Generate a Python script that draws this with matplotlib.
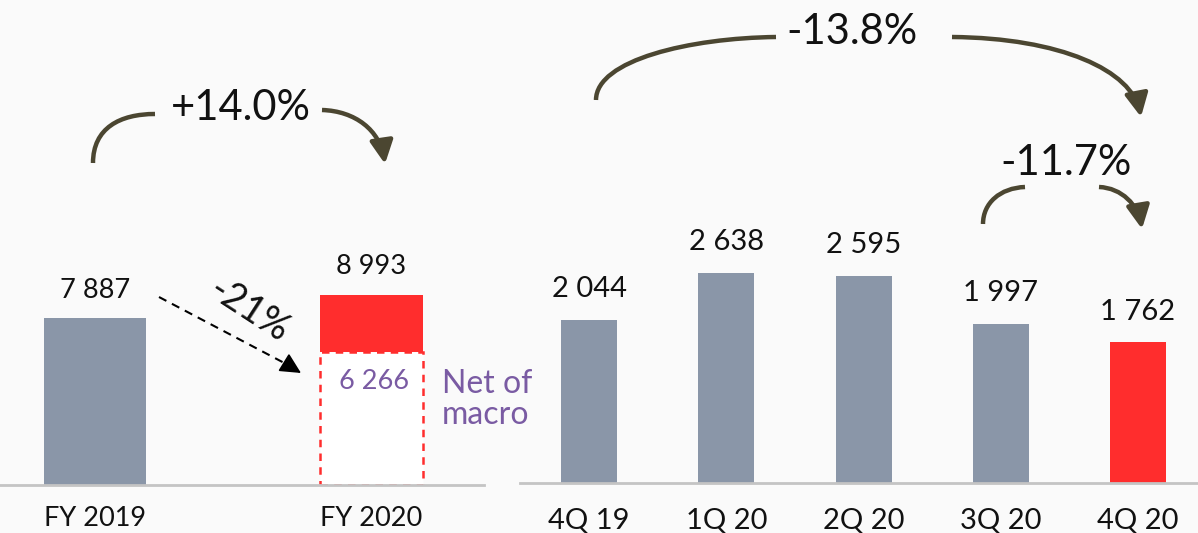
import matplotlib
matplotlib.use("Agg")
import matplotlib.pyplot as plt
from matplotlib.path import Path
from matplotlib.patches import FancyArrowPatch, Rectangle

plt.rcParams['font.family'] = ['Lato', 'DejaVu Sans']

# yearly totals
years = ["FY 2019", "FY 2020"]
year_vals = [7887, 8993]
net_of_macro = 6266

# quarterly figures
quarters = ["4Q 19", "1Q 20", "2Q 20", "3Q 20", "4Q 20"]
quarter_vals = [2044, 2638, 2595, 1997, 1762]

grey = "#8a96a8"
red = "#ff2d2d"
purple = "#7a5ba3"
olive = "#4b4631"
ink = "#111111"
bg = "#fafafa"
base = "#c4c4c4"

W, H = 1198, 533
fig = plt.figure(figsize=(W / 100, H / 100), dpi=100, facecolor=bg)


def fmt(v):
    return f"{v:,}".replace(",", " ")


def style(ax, size):
    ax.set_facecolor("none")
    for s in ["top", "left", "right"]:
        ax.spines[s].set_visible(False)
    ax.spines["bottom"].set_color(base)
    ax.spines["bottom"].set_linewidth(2)
    ax.set_yticks([])
    ax.tick_params(axis="x", length=0, labelsize=size, labelcolor=ink)


# left panel: yearly
axl = fig.add_axes([0, 48 / H, 484 / W, 485 / H])
style(axl, 19.5)
axl.set_xlim(-0.3436, 1.4069)
axl.set_ylim(0, 22909)
bw = 0.369
axl.bar(0, year_vals[0], width=bw, color=grey)
axl.bar(1, year_vals[1] - net_of_macro, bottom=net_of_macro, width=bw, color=red)
axl.add_patch(Rectangle((1 - bw / 2, 0), bw, net_of_macro, facecolor="white",
                        edgecolor=red, linestyle=(0, (3, 2.5)), linewidth=1.8))
axl.set_xticks([0, 1], years)
axl.tick_params(axis="x", pad=15)
for i, v in enumerate(year_vals):
    axl.annotate(fmt(v), (i, v), xytext=(0, 20), textcoords="offset points",
                 ha="center", va="center", fontsize=19.5, color=ink)
axl.annotate(fmt(net_of_macro), (1, net_of_macro), xytext=(2, -21),
             textcoords="offset points", ha="center", va="center",
             fontsize=19.5, color=purple)
axl.annotate("Net of\nmacro", (1 + bw / 2, net_of_macro), xytext=(14, -34),
             textcoords="offset points", ha="left", va="center",
             fontsize=23, color=purple, linespacing=1.05)

# right panel: quarterly
axr = fig.add_axes([520 / W, 50 / H, 678 / W, 483 / H])
style(axr, 21)
axr.set_xlim(-0.503, 4.437)
axr.set_ylim(0, 6056)
colors = [grey] * (len(quarters) - 1) + [red]
axr.bar(range(len(quarters)), quarter_vals, width=0.408, color=colors)
axr.set_xticks(range(len(quarters)), quarters)
axr.tick_params(axis="x", pad=18)
for i, v in enumerate(quarter_vals):
    axr.annotate(fmt(v), (i, v), xytext=(0, 22), textcoords="offset points",
                 ha="center", va="center", fontsize=21, color=ink)

# overlay in pixel units for the growth arrows
ov = fig.add_axes([0, 0, 1, 1])
ov.set_xlim(0, W)
ov.set_ylim(H, 0)
ov.axis("off")
ov.patch.set_visible(False)


def curve(pts, head):
    codes = [Path.MOVETO] + [Path.CURVE4] * (len(pts) - 1)
    style_ = "-|>,head_length=1.0,head_width=0.5" if head else "-"
    p = FancyArrowPatch(path=Path(pts, codes), arrowstyle=style_,
                        mutation_scale=14, color=olive, linewidth=3.2,
                        capstyle="butt")
    ov.add_patch(p)


# +14.0%
curve([(93, 163), (93, 128), (120, 114), (155, 114)], False)
curve([(322, 110), (355, 111), (380, 130), (385, 164)], True)
ov.text(241, 108, "+14.0%", ha="center", va="center", fontsize=30, color=ink)

# -13.8%
curve([(596, 100), (596, 60), (690, 38), (776, 37)], False)
curve([(952, 37), (1060, 38), (1132, 70), (1141, 117)], True)
ov.text(852, 32, "-13.8%", ha="center", va="center", fontsize=30, color=ink)

# -11.7%
curve([(983, 224), (983, 203), (1000, 188), (1025, 187)], False)
curve([(1099, 187), (1122, 188), (1138, 205), (1142, 229)], True)
ov.text(1066, 163, "-11.7%", ha="center", va="center", fontsize=30, color=ink)

# net-of-macro drop: dashed shaft, solid head
ov.plot([159, 290], [297, 366], color="black", linestyle=(0, (4, 3)), linewidth=1.5)
ov.annotate("", xy=(301, 373), xytext=(288, 365),
            arrowprops=dict(arrowstyle="-|>,head_length=0.8,head_width=0.4",
                            color="black", linewidth=1.2, mutation_scale=16,
                            shrinkA=0, shrinkB=0))
ov.text(249, 311, "-21%", ha="center", va="center", fontsize=27,
        rotation=-33, color=ink)

fig.savefig("out.png", dpi=100, facecolor=bg)
